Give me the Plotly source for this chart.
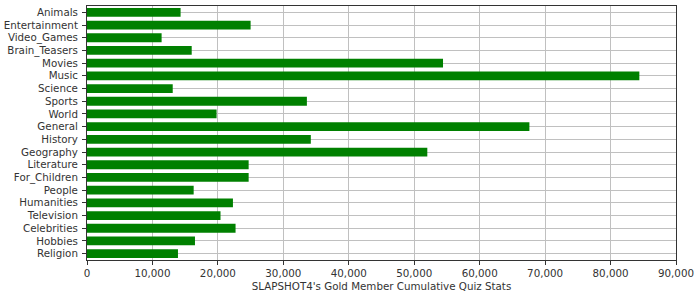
import plotly.graph_objects as go

categories = ["Animals", "Entertainment", "Video_Games", "Brain_Teasers", "Movies", "Music",
              "Science", "Sports", "World", "General", "History", "Geography", "Literature",
              "For_Children", "People", "Humanities", "Television", "Celebrities", "Hobbies", "Religion"]
values = [14300, 25000, 11400, 16000, 54400, 84400, 13100, 33600, 19800, 67600,
          34200, 52000, 24700, 24700, 16300, 22300, 20400, 22700, 16500, 13900]
x_title = "SLAPSHOT4's Gold Member Cumulative Quiz Stats"

fig = go.Figure(go.Bar(
    x=values, y=categories, orientation="h",
    marker=dict(color="#008000", line=dict(width=0)),
))

font = dict(family="DejaVu Sans", size=10.3, color="#333333")
fig.update_layout(
    width=700, height=300,
    margin=dict(l=87, r=24, t=6, b=40),
    plot_bgcolor="white", paper_bgcolor="white",
    bargap=0.31,
    showlegend=False,
    font=font,
)
fig.update_xaxes(
    range=[0, 90000], dtick=10000, tickformat=",d",
    showgrid=True, gridcolor="#c0c0c0", gridwidth=1,
    showline=True, linecolor="#333333", linewidth=1, mirror=True,
    ticks="outside", ticklen=4, tickcolor="#333333",
    zeroline=False, automargin=False,
    title=dict(text=x_title, font=font, standoff=4),
)
fig.update_yaxes(
    autorange="reversed", dtick=1, tickmode="linear",
    showgrid=True, gridcolor="#c0c0c0", gridwidth=1,
    showline=True, linecolor="#333333", linewidth=1, mirror=True,
    ticks="outside", ticklen=4, tickcolor="#333333",
    ticklabelstandoff=2, automargin=False,
)

fig.write_html("out.html")
